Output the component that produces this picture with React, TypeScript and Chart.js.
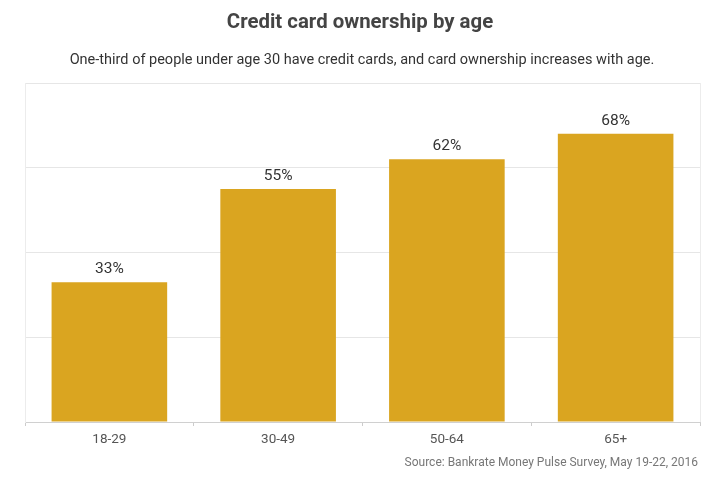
import React, { useEffect, useRef } from "react";
import { Chart, registerables } from "chart.js";

Chart.register(...registerables);

const titleText = "Credit card ownership by age";
const subtitleText =
  "One-third of people under age 30 have credit cards, and card ownership increases with age.";
const sourceText = "Source: Bankrate Money Pulse Survey, May 19-22, 2016";
const categories = ["18-29", "30-49", "50-64", "65+"];
const ownership = [33, 55, 62, 68];
const yMin = 0;
const yMax = 80;
const yStep = 20;

const FONT = "Roboto, 'Noto Sans', Arial, sans-serif";

export default function App() {
  const ref = useRef<HTMLCanvasElement | null>(null);

  useEffect(() => {
    document.body.style.margin = "0";
    const canvas = ref.current;
    if (!canvas) return;

    const textPlugin = {
      id: "texts",
      afterDatasetsDraw(chart: any) {
        const ctx = chart.ctx;
        const area = chart.chartArea;
        ctx.save();
        // right border of plot frame
        ctx.strokeStyle = "#ececec";
        ctx.lineWidth = 1;
        ctx.beginPath();
        ctx.moveTo(Math.round(area.right) + 0.5, area.top);
        ctx.lineTo(Math.round(area.right) + 0.5, area.bottom);
        ctx.stroke();

        // value labels
        const meta = chart.getDatasetMeta(0);
        ctx.fillStyle = "#333333";
        ctx.font = `15.5px ${FONT}`;
        ctx.textAlign = "center";
        ctx.textBaseline = "bottom";
        meta.data.forEach((bar: any, i: number) => {
          ctx.fillText(`${ownership[i]}%`, bar.x, bar.y - 5);
        });

        // title & subtitle
        ctx.fillStyle = "#444444";
        ctx.font = `bold 20.4px ${FONT}`;
        ctx.textBaseline = "middle";
        ctx.fillText(titleText, 360, 23);
        ctx.fillStyle = "#333333";
        ctx.font = `14.5px ${FONT}`;
        ctx.fillText(subtitleText, 362, 60);

        // source
        ctx.fillStyle = "#777777";
        ctx.font = `12px ${FONT}`;
        ctx.textAlign = "right";
        ctx.fillText(sourceText, 698, 463);
        ctx.restore();
      },
    };

    const chart = new Chart(canvas, {
      type: "bar",
      data: {
        labels: categories,
        datasets: [
          {
            data: ownership,
            backgroundColor: "#DAA520",
            borderWidth: 0,
            barPercentage: 0.685,
            categoryPercentage: 1,
          },
        ],
      },
      options: {
        responsive: false,
        animation: false,
        devicePixelRatio: 1,
        layout: { padding: { left: 25, right: 20, top: 83, bottom: 26 } },
        plugins: {
          legend: { display: false },
          title: { display: false },
          tooltip: { enabled: false },
        },
        scales: {
          x: {
            grid: {
              display: true,
              offset: true,
              drawOnChartArea: false,
              drawTicks: true,
              tickLength: 4,
              color: "#cccccc",
            },
            border: { display: true, color: "#d0d0d0" },
            ticks: {
              color: "#555555",
              font: { family: FONT, size: 13.5 },
              padding: 6,
            },
            afterFit: (s: any) => {
              s.height = 40;
            },
          },
          y: {
            min: yMin,
            max: yMax,
            ticks: { display: false, stepSize: yStep },
            grid: { color: "#e6e6e6", drawTicks: false },
            border: { display: true, color: "#ececec" },
            afterFit: (s: any) => {
              s.width = 0;
            },
          },
        },
      },
      plugins: [textPlugin],
    });

    return () => chart.destroy();
  }, []);

  return (
    <div style={{ width: 720, height: 488, background: "#fff" }}>
      <canvas ref={ref} width={720} height={488} style={{ display: "block" }} />
    </div>
  );
}
